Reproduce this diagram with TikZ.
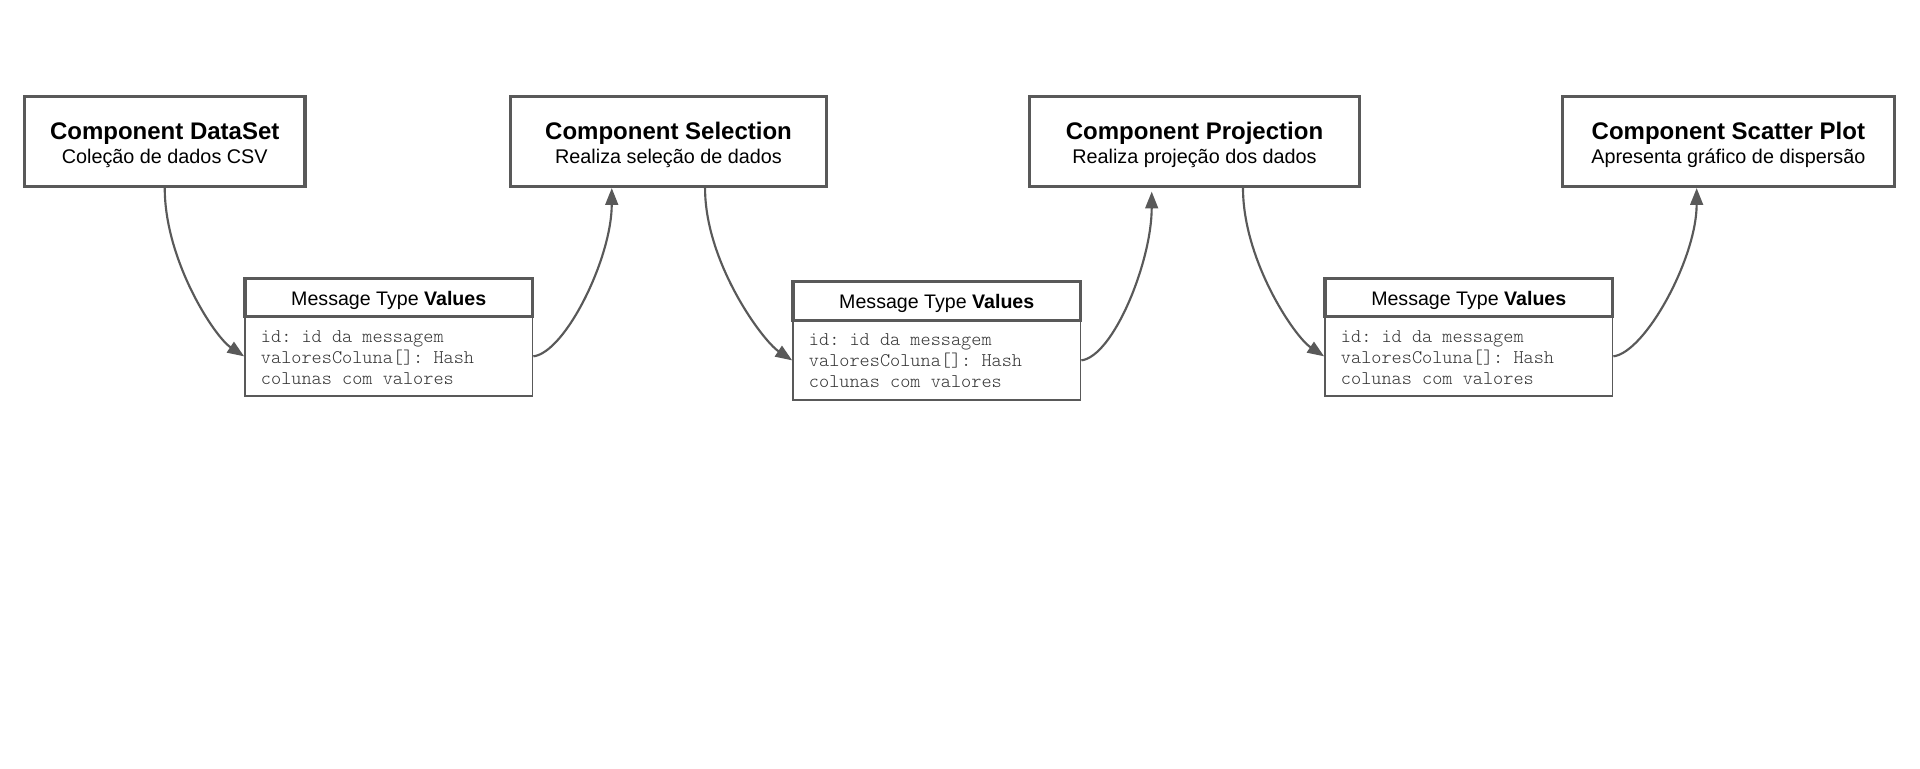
\documentclass[tikz,border=0pt]{standalone}
\usepackage{fontspec}
\setmainfont{Liberation Sans}
\setmonofont{lmmonolt10-regular.otf}
\usetikzlibrary{arrows.meta,calc}
\definecolor{edge}{HTML}{595959}
\definecolor{monotext}{HTML}{333333}
\tikzset{
  comp/.style={draw=edge, line width=2.4pt, fill=white, inner sep=0pt, minimum height=89.8*0.75pt},
  hdr/.style={draw=edge, line width=2.4pt, inner sep=0pt, minimum width=287.5*0.75pt, minimum height=38.4*0.75pt},
  body/.style={draw=edge, line width=1.3pt, inner sep=0pt, minimum width=287.5*0.75pt, minimum height=79.5*0.75pt},
  ttl/.style={anchor=base, inner sep=0pt, font=\fontsize{18}{20}\selectfont\bfseries},
  sub/.style={anchor=base, inner sep=0pt, font=\fontsize{14.85}{17}\selectfont},
  htxt/.style={anchor=base, inner sep=0pt, font=\fontsize{14.7}{17}\selectfont},
  mtxt/.style={anchor=base west, inner sep=0pt, text=monotext, font=\fontsize{14.5}{16}\selectfont\ttfamily},
  flow/.style={draw=edge, line width=1.6pt, -{Triangle[length=12.5pt,width=9.5pt]}},
}
\begin{document}
\begin{tikzpicture}[x=0.75pt,y=-0.75pt]
\fill[white] (0,0) rectangle (1920,768);
\useasboundingbox (0,0) rectangle (1920,768);

% components
\node[comp, minimum width=280.5*0.75pt] (ds) at (164.75,141.6) {};
\node[ttl] (dsT) at (164.75,139.3) {Component DataSet};
\node[sub] (dsS) at (164.75,163.3) {Coleção de dados CSV};

\node[comp, minimum width=315.9*0.75pt] (sel) at (668.55,141.6) {};
\node[ttl] (selT) at (668.55,139.3) {Component Selection};
\node[sub] (selS) at (668.55,163.3) {Realiza seleção de dados};

\node[comp, minimum width=329.4*0.75pt] (proj) at (1194.5,141.6) {};
\node[ttl] (projT) at (1194.5,139.3) {Component Projection};
\node[sub] (projS) at (1194.5,163.3) {Realiza projeção dos dados};

\node[comp, minimum width=331.9*0.75pt] (sc) at (1728.35,141.6) {};
\node[ttl] (scT) at (1728.35,139.3) {Component Scatter Plot};
\node[sub] (scS) at (1728.35,163.3) {Apresenta gráfico de dispersão};

% message 1
\node[body] (m1b) at (388.75,356.35) {};
\node[hdr] (m1h) at (388.75,297.5) {};
\node[htxt] (m1t) at (388.75,305) {Message Type \textbf{Values}};
\node[mtxt] (m1a) at (260.7,342.3) {id: id da messagem};
\node[mtxt] (m1c) at (260.7,363.3) {valoresColuna[]: Hash};
\node[mtxt] (m1d) at (260.7,384.3) {colunas com valores};

% message 2
\node[body] (m2b) at (936.75,360.35) {};
\node[hdr] (m2h) at (936.75,300.9) {};
\node[htxt] (m2t) at (936.75,308.4) {Message Type \textbf{Values}};
\node[mtxt] (m2a) at (808.7,345.7) {id: id da messagem};
\node[mtxt] (m2c) at (808.7,366.7) {valoresColuna[]: Hash};
\node[mtxt] (m2d) at (808.7,387.7) {colunas com valores};

% message 3
\node[body] (m3b) at (1468.75,356.35) {};
\node[hdr] (m3h) at (1468.75,297.5) {};
\node[htxt] (m3t) at (1468.75,305) {Message Type \textbf{Values}};
\node[mtxt] (m3a) at (1340.7,342.3) {id: id da messagem};
\node[mtxt] (m3c) at (1340.7,363.3) {valoresColuna[]: Hash};
\node[mtxt] (m3d) at (1340.7,384.3) {colunas com valores};

% connectors
\draw[flow] (ds.south) .. controls +(0,72) and +(-30,-20) .. (m1b.west);
\draw[flow] (m1b.east) .. controls +(32,-4) and +(0,70) .. ([xshift=-56.8*0.75pt]sel.south);
\draw[flow] ([xshift=36.5*0.75pt]sel.south) .. controls +(0,74) and +(-30,-20) .. (m2b.west);
\draw[flow] (m2b.east) .. controls +(32,-4) and +(0,70) .. ([xshift=-42.8*0.75pt,yshift=-3.5*0.75pt]proj.south);
\draw[flow] ([xshift=48.5*0.75pt]proj.south) .. controls +(0,72) and +(-30,-20) .. (m3b.west);
\draw[flow] (m3b.east) .. controls +(32,-4) and +(0,70) .. ([xshift=-31.7*0.75pt]sc.south);
\end{tikzpicture}
\end{document}
